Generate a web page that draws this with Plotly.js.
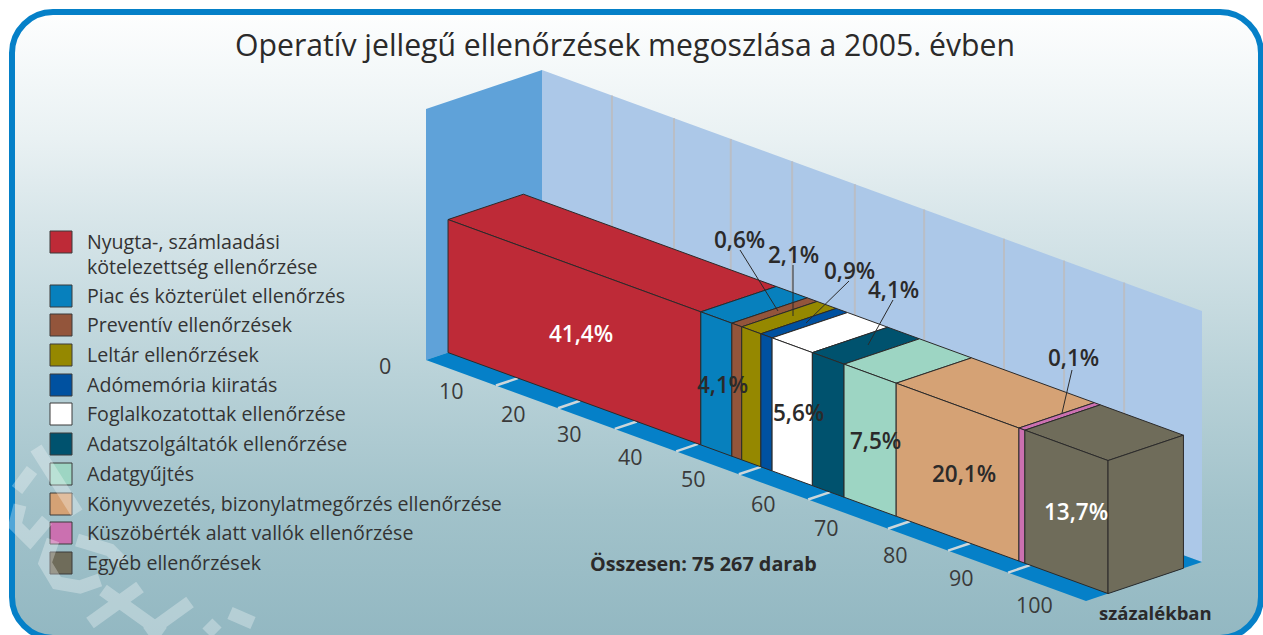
<!DOCTYPE html>
<html><head><meta charset="utf-8">
<script src="https://cdn.plot.ly/plotly-3.0.1.min.js"></script>
<style>
html,body{margin:0;padding:0;background:#fff;overflow:hidden;width:1263px;height:635px}
#card{position:absolute;left:9px;top:9px;width:1255px;height:632px;box-sizing:border-box;border:6px solid #0580c8;border-radius:44px;
background:linear-gradient(180deg,#fdfefe 0%,#e9f1f3 20%,#d5e4e8 35%,#b9d2d8 58%,#a1c2ca 80%,#93b8c2 100%)}
#plot{position:absolute;left:0;top:0;width:1263px;height:635px}
</style></head><body><div id="card"></div><div id="plot"></div>
<script>
const categories=["Nyugta-, számlaadási<br>kötelezettség ellenőrzése","Piac és közterület ellenőrzés","Preventív ellenőrzések","Leltár ellenőrzések","Adómemória kiiratás","Foglalkozatottak ellenőrzése","Adatszolgáltatók ellenőrzése","Adatgyűjtés","Könyvvezetés, bizonylatmegőrzés ellenőrzése","Küszöbérték alatt vallók ellenőrzése","Egyéb ellenőrzések"];
const shares=[41.4,4.1,0.6,2.1,0.9,5.6,4.1,7.5,20.1,0.1,13.7];
// where each slice visibly ends along the drawn axis
const drawnEnds=[38.3,43.0,44.5,47.4,49.1,55.2,60.0,67.9,86.5,87.4,100];
const colors=["#be2a37","#0780bd","#93553b","#958800","#0051a0","#ffffff","#00526e","#9dd5c3","#d5a275","#cb70b0","#6f6c5a"];
const tickLabels=["0","10","20","30","40","50","60","70","80","90","100"];
const tickStops=[0,10.6,20,28.6,37.9,47.4,57.9,70,79.1,88.2,100];

const INK="#2b2a2a",FONT="'Open Sans',sans-serif";
const P=(u,d,z)=>[426+6.6*u+116*d,360+2.41*u-39*d-251*z];
const D0=0.19,D1=0.84,H=0.53;
function poly(pts,fill,line,name){
  const q=pts.map(p=>P(...p));
  return {type:"scatter",mode:line?"lines":"none",x:q.map(a=>a[0]).concat(q[0][0]),y:q.map(a=>a[1]).concat(q[0][1]),
    fill:"toself",fillcolor:fill,line:{color:line||fill,width:line?1:0},hoverinfo:"skip",name:name||"",showlegend:false};
}
function segs(list,color,width){
  const x=[],y=[];
  list.forEach(([a,b])=>{const p=P(...a),r=P(...b);x.push(p[0],r[0],null);y.push(p[1],r[1],null);});
  return {type:"scatter",mode:"lines",x,y,line:{color,width},hoverinfo:"skip",showlegend:false};
}
const traces=[];
traces.push(poly([[0,0,0],[0,1,0],[0,1,1],[0,0,1]],"#5fa2d9"));
traces.push(poly([[0,1,0],[100,1,0],[100,1,1],[0,1,1]],"#acc8e8"));
traces.push(poly([[0,0,0],[100,0,0],[100,1,0],[0,1,0]],"#0580c8"));
const inner=tickStops.slice(1,-1);
traces.push(segs(inner.map(u=>[[u,1,0],[u,1,1]]),"#b9bec6",2));
traces.push(segs(inner.map(u=>[[u,0,0],[u,D0,0]]),"#ccd6da",2.5));
let start=0;
shares.forEach((s,i)=>{
  const e=drawnEnds[i];
  traces.push(poly([[start,D0,H],[e,D0,H],[e,D1,H],[start,D1,H]],colors[i],INK,categories[i]));
  traces.push(poly([[start,D0,0],[e,D0,0],[e,D0,H],[start,D0,H]],colors[i],INK,categories[i]));
  start=e;
});
traces.push(poly([[100,D0,0],[100,D1,0],[100,D1,H],[100,D0,H]],colors[10],INK));

// leader lines
const leaders=[[740,250,778,311],[793,265,793,316],[849,281,806,323],[893,300,868,345],[1072,370,1062,413]];
traces.push({type:"scatter",mode:"lines",x:leaders.flatMap(l=>[l[0],l[2],null]),y:leaders.flatMap(l=>[l[1],l[3],null]),line:{color:INK,width:1},hoverinfo:"skip",showlegend:false});

// legend swatches
const swatchTops=[231,285,314,344,374,403,433,463,493,522,552];
swatchTops.forEach((t,i)=>traces.push({type:"scatter",mode:"lines",x:[50,72,72,50,50],y:[t,t,t+22,t+22,t],fill:"toself",fillcolor:colors[i],line:{color:"#3a3a3a",width:1},hoverinfo:"skip",showlegend:false,name:categories[i]}));

// faint diagonal stamp strokes over the lower-left corner
const stamp=[[[36,448],[77,513]],[[17,490],[32,470]],[[20,505],[15,525],[30,540],[47,520]],[[77,540],[110,550],[123,563]],[[53,540],[45,563],[57,583],[80,587],[100,580]],[[90,623],[140,587]],[[147,633],[190,602]],[[103,590],[163,633]],[[230,613],[253,623]],[[207,633],[217,623]]];
traces.push({type:"scatter",mode:"lines",x:stamp.flatMap(s=>s.map(p=>p[0]).concat(null)),y:stamp.flatMap(s=>s.map(p=>p[1]).concat(null)),line:{color:"#ffffff",width:13},opacity:0.3,hoverinfo:"skip",showlegend:false});

const ann=[];
const T=(text,x,y,size,opt)=>ann.push(Object.assign({text,x,y,xref:"x",yref:"y",showarrow:false,xanchor:"center",yanchor:"middle",font:{family:FONT,size,color:INK}},opt||{}));
T("Operatív jellegű ellenőrzések megoszlása a 2005. évben",625,44,30.2);
categories.forEach((c,i)=>T(c,85,swatchTops[i]+(i==0?23:10),19.6,{xanchor:"left",align:"left",font:{family:FONT,size:19.6,color:"#333"}}));
const fmt=v=>v.toFixed(1).replace(".",",")+"%";
const labelPos=[[581,333,"#fff"],[722,384],[739,239],[793,254],[849,270],[798,412],[893,289],[875,440],[964,473],[1073,357],[1076,511,"#fff"]];
shares.forEach((s,i)=>{const l=labelPos[i];T(fmt(s),l[0],l[1],22.5,{font:{family:FONT,size:22.5,weight:600,color:l[2]||INK}});});
const tickLabelX=[385,451,513,569,630,693,763,826,895,961,1034],tickLabelY=[365,390,413,433,456,478,503,527,554,577,604];
tickLabels.forEach((t,i)=>T(t,tickLabelX[i],tickLabelY[i],21.5,{font:{family:FONT,size:21.5,color:"#3a3a3a"}}));
T("Összesen: 75 267 darab",703,563,19.8,{font:{family:FONT,size:19.8,weight:700,color:INK}});
T("százalékban",1155,612,18.5,{font:{family:FONT,size:18.5,weight:700,color:INK}});

Plotly.newPlot("plot",traces,{width:1263,height:635,margin:{l:0,r:0,t:0,b:0},paper_bgcolor:"rgba(0,0,0,0)",plot_bgcolor:"rgba(0,0,0,0)",showlegend:false,
 xaxis:{range:[0,1263],visible:false,fixedrange:true},yaxis:{range:[635,0],visible:false,fixedrange:true},annotations:ann},{displayModeBar:false,staticPlot:true});
</script></body></html>
